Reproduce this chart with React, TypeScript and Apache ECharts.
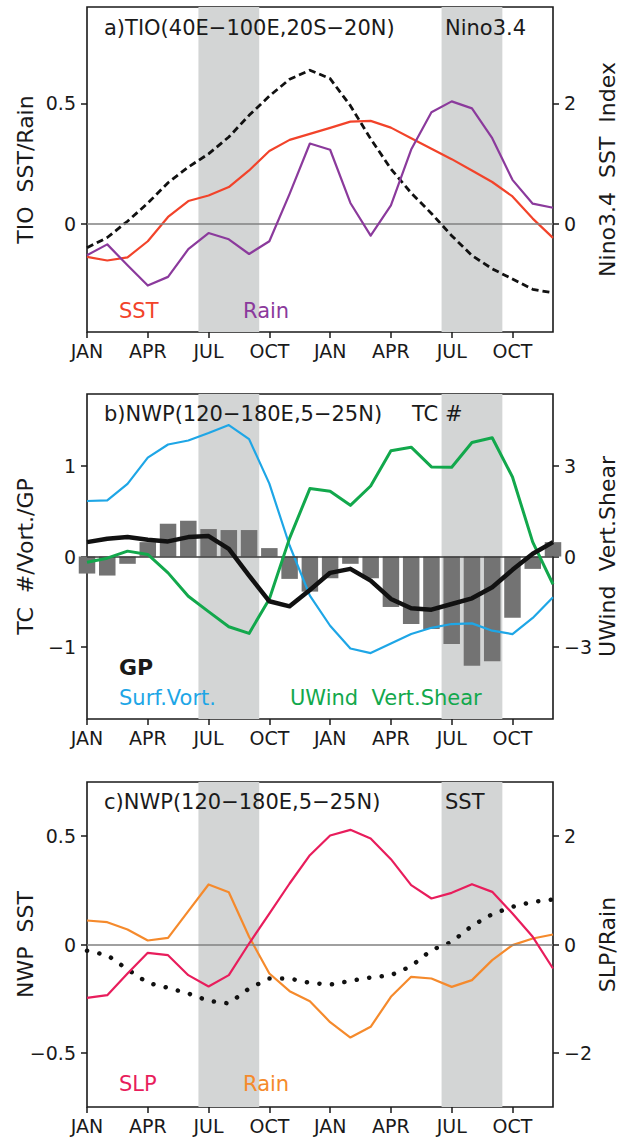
import React, { useEffect, useRef } from 'react';
import * as echarts from 'echarts';

// x positions: month index 0..23 (JAN year0 .. DEC year1)
const months = ['JAN','FEB','MAR','APR','MAY','JUN','JUL','AUG','SEP','OCT','NOV','DEC','JAN','FEB','MAR','APR','MAY','JUN','JUL','AUG','SEP','OCT','NOV','DEC'];
const tickPositions = [0, 3, 6, 9, 12, 15, 18, 21];
const tickLabels = ['JAN', 'APR', 'JUL', 'OCT', 'JAN', 'APR', 'JUL', 'OCT'];
const shadeRanges = [[5.5, 8.5], [17.5, 20.5]];

// Panel a
const tioSst = [-0.138,-0.153,-0.14,-0.073,0.028,0.094,0.117,0.152,0.221,0.302,0.348,0.373,0.398,0.424,0.427,0.399,0.355,0.311,0.268,0.221,0.173,0.113,0.021,-0.059];
const tioRain = [-0.131,-0.086,-0.173,-0.257,-0.221,-0.106,-0.039,-0.065,-0.126,-0.073,0.124,0.333,0.307,0.086,-0.05,0.076,0.308,0.463,0.508,0.479,0.355,0.182,0.083,0.066];
const nino34 = [-0.40,-0.23,0.04,0.34,0.68,0.94,1.16,1.44,1.80,2.12,2.40,2.55,2.41,1.96,1.41,0.91,0.51,0.17,-0.20,-0.53,-0.75,-0.92,-1.09,-1.15];

// Panel b
const tcNum = [-0.189,-0.211,-0.081,0.159,0.363,0.396,0.304,0.293,0.293,0.093,-0.248,-0.389,-0.241,-0.081,-0.241,-0.559,-0.748,-0.804,-0.97,-1.211,-1.159,-0.678,-0.137,0.159];
const surfVort = [0.615,0.622,0.804,1.096,1.241,1.285,1.367,1.456,1.30,0.807,0.122,-0.433,-0.767,-1.019,-1.07,-0.963,-0.859,-0.79,-0.748,-0.741,-0.822,-0.859,-0.681,-0.452];
const gp = [0.159,0.196,0.215,0.185,0.167,0.215,0.226,0.085,-0.211,-0.496,-0.552,-0.37,-0.181,-0.137,-0.267,-0.47,-0.574,-0.589,-0.526,-0.463,-0.341,-0.148,0.03,0.159];
const uwindShear = [-0.189,-0.056,0.178,0.067,-0.544,-1.322,-1.833,-2.333,-2.556,-1.411,0.611,2.256,2.167,1.7,2.344,3.511,3.633,2.978,2.967,3.789,3.944,2.644,0.478,-0.922];

// Panel c
const nwpSst = [-0.029,-0.049,-0.115,-0.177,-0.2,-0.226,-0.26,-0.272,-0.203,-0.157,-0.157,-0.177,-0.185,-0.168,-0.152,-0.142,-0.1,-0.026,0.012,0.086,0.14,0.174,0.197,0.208];
const slp = [-0.985,-0.935,-0.535,-0.154,-0.197,-0.566,-0.775,-0.566,0.018,0.572,1.126,1.649,2.012,2.117,1.957,1.575,1.095,0.849,0.954,1.114,0.972,0.572,0.142,-0.443];
const nwpRain = [0.443,0.412,0.277,0.074,0.123,0.615,1.108,0.966,0.142,-0.535,-0.862,-1.046,-1.434,-1.717,-1.52,-0.966,-0.597,-0.628,-0.782,-0.658,-0.289,-0.012,0.111,0.185];

const FONT = 'DejaVu Sans';
const INK = '#1a1a1a';

const pairs = (arr: number[]) => arr.map((v, i) => [i, v]);
const fmt = (v: number) => String(v).replace('-', '\u2212');

const grids = [
  { left: 87, right: 73, top: 7, height: 325 },
  { left: 87, right: 73, top: 394, height: 325 },
  { left: 87, right: 73, top: 782, height: 325 },
];

function xAxis(gridIndex: number) {
  return {
    type: 'value', gridIndex, min: 0, max: 23,
    axisLine: { show: false, onZero: false },
    axisTick: { show: true, length: 6, customValues: tickPositions, lineStyle: { color: INK, width: 1.5 } },
    axisLabel: {
      customValues: tickPositions, margin: 9, color: INK, fontFamily: FONT, fontSize: 19,
      formatter: (v: number) => tickLabels[tickPositions.indexOf(v)] ?? months[v],
    },
    splitLine: { show: false },
  };
}

function yAxis(gridIndex: number, position: string, min: number, max: number, ticks: number[], name: string, nameGap: number) {
  return {
    type: 'value', gridIndex, position, min, max,
    name, nameLocation: 'middle', nameGap, nameRotate: 90, nameMoveOverlap: false,
    nameTextStyle: { color: INK, fontFamily: FONT, fontSize: 22 },
    axisLine: { show: false, onZero: false },
    axisTick: { show: true, length: 6, customValues: ticks, lineStyle: { color: INK, width: 1.5 } },
    axisLabel: { customValues: ticks, margin: 11, color: INK, fontFamily: FONT, fontSize: 19, formatter: fmt },
    splitLine: { show: false },
  };
}

function helper(xi: number, yi: number) {
  return {
    type: 'line', xAxisIndex: xi, yAxisIndex: yi, data: [], z: 1, silent: true,
    markArea: {
      silent: true, itemStyle: { color: '#d3d5d5' },
      data: shadeRanges.map(r => [{ xAxis: r[0] }, { xAxis: r[1] }]),
    },
  };
}

function zeroLine(xi: number, yi: number, color: string, z: number) {
  return {
    type: 'line', xAxisIndex: xi, yAxisIndex: yi, data: [], z, silent: true,
    markLine: {
      silent: true, symbol: 'none', label: { show: false },
      lineStyle: { color, width: 1.6, type: 'solid' },
      data: [{ yAxis: 0 }],
    },
  };
}

function line(xi: number, yi: number, data: number[], color: string, width: number, z: number, type: any = 'solid', cap: any = 'butt') {
  return {
    type: 'line', xAxisIndex: xi, yAxisIndex: yi, data: pairs(data), z,
    symbol: 'none', silent: true,
    lineStyle: { color, width, type, cap, join: 'round' },
  };
}

function text(x: number, y: number, t: string, color: string, size = 20, weight: any = 'normal') {
  return {
    type: 'text', x, y, z: 100, silent: true,
    style: { text: t, fill: color, fontFamily: FONT, fontSize: size, fontWeight: weight, verticalAlign: 'middle', align: 'left' },
  };
}

export default function App() {
  const ref = useRef<HTMLDivElement>(null);
  useEffect(() => {
    document.body.style.margin = '0';
    const chart = echarts.init(ref.current!, undefined, { renderer: 'svg' });
    const option: any = {
      animation: false,
      backgroundColor: '#ffffff',
      grid: grids.map(g => ({
        ...g, show: true, borderColor: INK, borderWidth: 1.6, backgroundColor: 'transparent',
        containLabel: false, outerBoundsMode: 'none',
      })),
      xAxis: [xAxis(0), xAxis(1), xAxis(2)],
      yAxis: [
        yAxis(0, 'left', -0.45, 0.9, [0, 0.5], 'TIO  SST/Rain', 51),
        yAxis(0, 'right', -1.8, 3.6, [0, 2], 'Nino3.4  SST  Index', 43),
        yAxis(1, 'left', -1.8, 1.8, [-1, 0, 1], 'TC  #/Vort./GP', 51),
        yAxis(1, 'right', -5.4, 5.4, [-3, 0, 3], 'UWind  Vert.Shear', 43),
        yAxis(2, 'left', -0.75, 0.75, [-0.5, 0, 0.5], 'NWP  SST', 51),
        yAxis(2, 'right', -3, 3, [-2, 0, 2], 'SLP/Rain', 43),
      ],
      series: [
        // panel a
        helper(0, 0),
        zeroLine(0, 0, '#808080', 2),
        line(0, 1, nino34, '#111111', 2.8, 3, [7, 4]),
        line(0, 0, tioSst, '#f2432a', 2.2, 4),
        line(0, 0, tioRain, '#8b3a9c', 2.2, 5),
        // panel b
        helper(1, 2),
        {
          type: 'bar', xAxisIndex: 1, yAxisIndex: 2, data: pairs(tcNum), barWidth: 16.5, z: 2, silent: true,
          itemStyle: { color: '#737373' },
        },
        zeroLine(1, 2, '#3a3a3a', 3),
        line(1, 2, surfVort, '#1ea6e6', 2.2, 4),
        line(1, 3, uwindShear, '#12a84c', 3, 5),
        line(1, 2, gp, '#111111', 4.5, 6),
        // panel c
        helper(2, 4),
        zeroLine(2, 4, '#808080', 2),
        line(2, 4, nwpSst, '#111111', 4.5, 3, [0.1, 12.5], 'round'),
        line(2, 5, nwpRain, '#f58a2c', 2.2, 4),
        line(2, 5, slp, '#e81d5c', 2.2, 5),
      ],
      graphic: [
        text(104, 28, 'a)TIO(40E\u2212100E,20S\u221220N)', INK, 21),
        text(445, 28, 'Nino3.4', INK, 21),
        text(119, 311, 'SST', '#f2432a', 21),
        text(243, 311, 'Rain', '#8b3a9c', 21),
        text(104, 414, 'b)NWP(120\u2212180E,5\u221225N)', INK, 21),
        text(412, 414, 'TC #', INK, 21),
        text(119, 667, 'GP', INK, 22, 'bold'),
        text(119, 698, 'Surf.Vort.', '#1ea6e6', 21),
        text(290, 698, 'UWind  Vert.Shear', '#12a84c', 21),
        text(104, 802, 'c)NWP(120\u2212180E,5\u221225N)', INK, 21),
        text(445, 802, 'SST', INK, 21),
        text(119, 1084, 'SLP', '#e81d5c', 21),
        text(243, 1084, 'Rain', '#f58a2c', 21),
      ],
    };
    chart.setOption(option);
    return () => chart.dispose();
  }, []);
  return <div ref={ref} style={{ width: 626, height: 1137 }} />;
}
